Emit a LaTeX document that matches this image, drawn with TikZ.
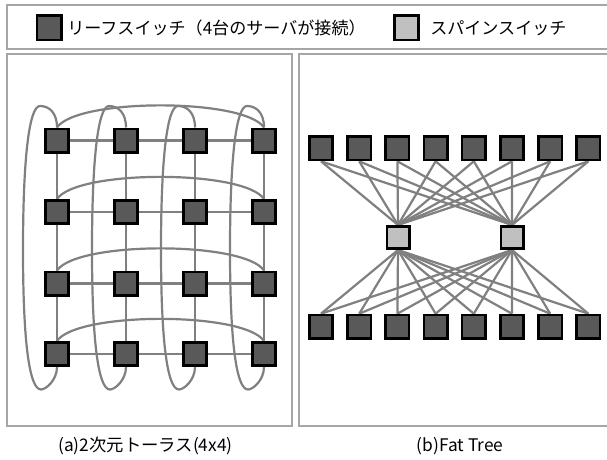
\documentclass[tikz,border=0pt]{standalone}
\usepackage{fontspec}
\newfontfamily\jp{Noto Sans CJK JP}
\usetikzlibrary{backgrounds}
\definecolor{leaffill}{HTML}{595959}
\definecolor{spinefill}{HTML}{C0C0C0}
\definecolor{wirecol}{HTML}{808080}
\definecolor{framecol}{HTML}{A6A6A6}
\begin{document}
\begin{tikzpicture}[x=0.75pt,y=-0.75pt,
  leaf/.style={draw=black,fill=leaffill,line width=1.9pt,minimum size=17.6pt,inner sep=0pt},
  spine/.style={leaf,fill=spinefill,minimum size=16.85pt},
  wire/.style={draw=wirecol,line width=1.65pt},
  frame/.style={draw=framecol,line width=1pt},
  legendtext/.style={font=\jp\fontsize{12.8pt}{14pt}\selectfont,inner sep=0pt,anchor=west},
  caption/.style={font=\jp\fontsize{13pt}{15pt}\selectfont,inner sep=0pt}]
\useasboundingbox (0,0) rectangle (607,460);

% frames: legend bar and the two panels (right edges run past the page)
\draw[frame] (612,5) -- (7,5) -- (7,49) -- (612,49);
\draw[frame] (7,54) rectangle (292,426);
\draw[frame] (612,54) -- (299,54) -- (299,426) -- (612,426);

% legend
\node[leaf,minimum size=18.35pt] (kleaf) at (49,28) {};
\node[legendtext] (tleaf) at (67,28.5) {リーフスイッチ（4台のサーバが接続）};
\node[spine,minimum size=18.35pt] (kspine) at (406.5,28) {};
\node[legendtext] (tspine) at (430,28.5) {スパインスイッチ};

% 2D torus, 4x4 leaf switches
\foreach \i/\x in {1/57,2/126,3/195,4/264}
  \foreach \j/\y in {1/140.5,2/212,3/283.5,4/354}
    \node[leaf] (t-\i-\j) at (\x,\y) {};

% fat tree: two rows of leaves, two spines
\foreach \k in {1,...,8} {
  \node[leaf] (u\k) at ({321+38.2*(\k-1)},148.3) {};
  \node[leaf] (d\k) at ({321+38.2*(\k-1)},326.7) {};
}
\node[spine] (s1) at (398,237.5) {};
\node[spine] (s2) at (512,237.5) {};

\begin{scope}[on background layer]
  \fill[white] (0,0) rectangle (607,460);
  % torus mesh links
  \foreach \i in {1,2,3,4}
    \foreach \a/\b in {1/2,2/3,3/4} {
      \draw[wire] (t-\i-\a) -- (t-\i-\b);
      \draw[wire] (t-\a-\i) -- (t-\b-\i);
    }
  % wrap-around links along each row
  \foreach \j in {1,...,4}
    \draw[wire] (t-1-\j.north) .. controls +(20,-29.5) and +(-20,-29.5) .. (t-4-\j.north);
  % wrap-around links along each column
  \foreach \i in {1,...,4}
    \draw[wire] (t-\i-1.north) .. controls +(0,-15) and +(9,0) .. ++(-17,-21.5)
      .. controls +(-11,0) and +(0,-90) .. ++(-17,143.5)
      .. controls +(0,90) and +(-12,0) .. ++(18,140)
      .. controls +(5,0) and +(0,13) .. (t-\i-4.south);
  % fat tree links
  \foreach \k in {1,...,8}
    \foreach \s in {1,2} {
      \draw[wire] (u\k.south) -- (s\s.north);
      \draw[wire] (s\s.south) -- (d\k.north);
    }
\end{scope}

% captions
\node[caption] (ca) at (145.5,446) {(a)2次元トーラス(4x4)};
\node[caption] (cb) at (460,446) {(b)Fat Tree};
\end{tikzpicture}
\end{document}
